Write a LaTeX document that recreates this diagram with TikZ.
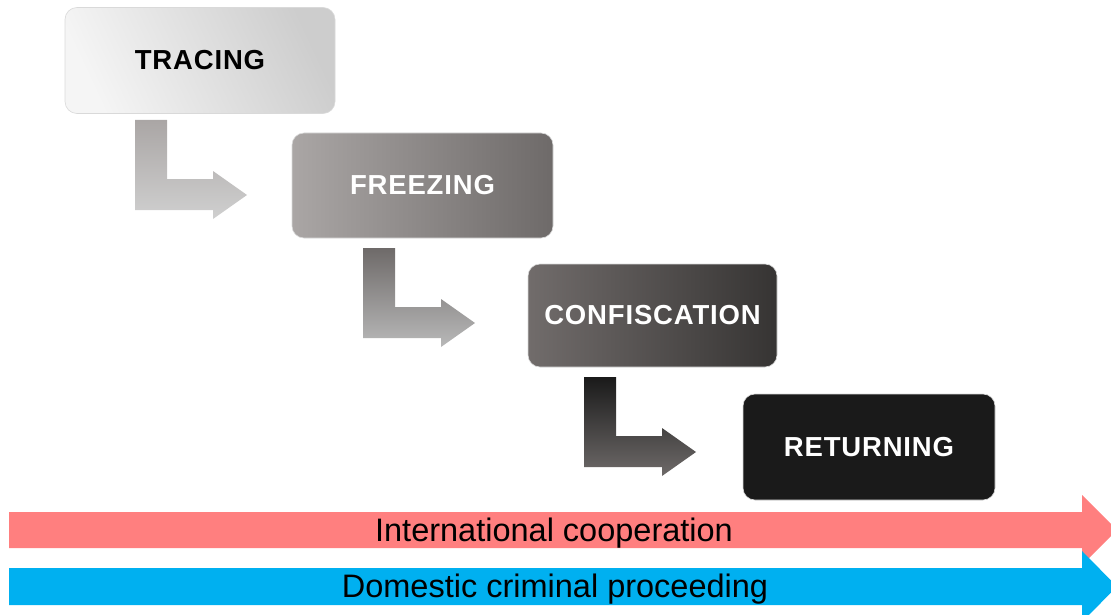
\documentclass[tikz,border=0pt]{standalone}
\usepackage{fontspec}
\setmainfont{Liberation Sans}
\newfontfamily\labelfont[LetterSpace=3]{Liberation Sans}
\definecolor{redband}{HTML}{FF7F7F}
\definecolor{blueband}{HTML}{00B0F0}
\definecolor{g1a}{HTML}{F5F5F5}
\definecolor{g1b}{HTML}{CDCDCD}
\definecolor{g2a}{HTML}{AAA6A5}
\definecolor{g2b}{HTML}{6E6A69}
\definecolor{g3a}{HTML}{716C6B}
\definecolor{g3b}{HTML}{363433}
\definecolor{g4}{HTML}{1A1A1A}
\begin{document}
\begin{tikzpicture}[x=1pt,y=-1pt,
  stagebox/.style={rounded corners=12pt, minimum width=#1, draw=white!85!black, line width=0.6pt,
    font=\labelfont\fontsize{27.5}{30}\selectfont\bfseries, inner sep=0pt},
  elbow/.pic={\path[pic actions] (0,0) -- (32,0) -- (32,59) -- (78,59) -- (78,51) -- (112,75)
     -- (78,99) -- (78,90) -- (0,90) -- cycle;},
  band/.style={font=\fontsize{32.5}{36}\selectfont}
]
\useasboundingbox (0,0) rectangle (1111,615);
% stage boxes
\node[stagebox=270pt, minimum height=106pt, left color=g1a, right color=g1b, shading angle=115, text=black]
  (tracing) at (200,60.5) {TRACING};
\node[stagebox=261pt, minimum height=105pt, left color=g2a, right color=g2b, text=white]
  (freezing) at (422.5,185.5) {FREEZING};
\node[stagebox=249pt, minimum height=103pt, left color=g3a, right color=g3b, text=white]
  (confiscation) at (652.5,315.5) {CONFISCATION};
\node[stagebox=252pt, minimum height=106pt, fill=g4, text=white]
  (returning) at (869,447) {RETURNING};
% elbow arrows
\pic[top color=g2a, bottom color=g1b!95!white] at (135,120) {elbow};
\pic[top color=g2b, bottom color=g1b!90!black] at (363,248) {elbow};
\pic[top color=g4, bottom color=g2b] at (584,377) {elbow};
% bands
\fill[redband] (9,512) -- (1082,512) -- (1082,495) -- (1117,530) -- (1082,565) -- (1082,548) -- (9,548) -- cycle;
\fill[blueband] (9,568) -- (1082,568) -- (1082,551) -- (1117,586.5) -- (1082,622) -- (1082,605) -- (9,605) -- cycle;
\node[band] (intl) at (554,533) {International cooperation};
\node[band] (dom) at (555,589) {Domestic criminal proceeding};
\end{tikzpicture}
\end{document}
